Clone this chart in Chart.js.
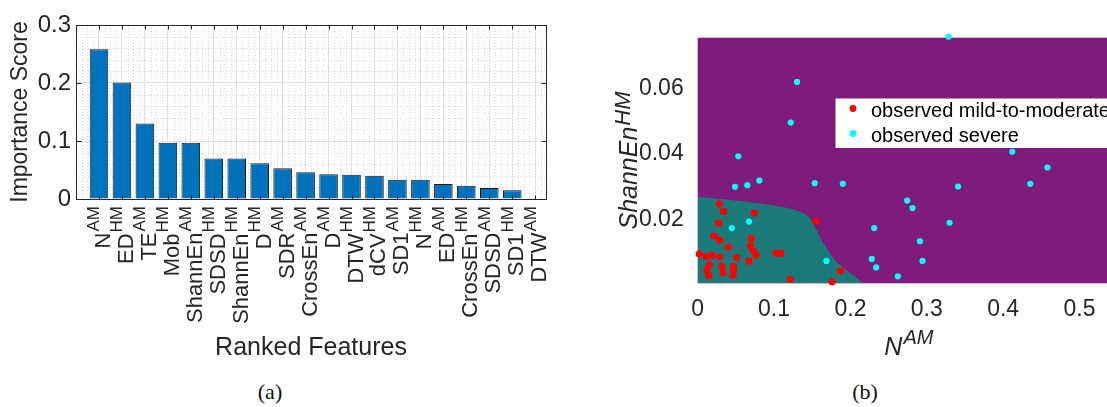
<!DOCTYPE html>
<html>
<head>
<meta charset="utf-8">
<script src="https://cdn.jsdelivr.net/npm/chart.js@4/dist/chart.umd.min.js"></script>
<style>
  html, body { margin: 0; padding: 0; background: #fff; width: 1107px; height: 407px; overflow: hidden; }
  #imp { position: absolute; left: 0; top: 0; }
  #region { position: absolute; left: 560px; top: 0; }
  .cap { position: absolute; top: 381px; transform: translateX(-50%); font: 22px/22px "Liberation Serif", "DejaVu Serif", serif; color: #111; }
</style>
</head>
<body>
<canvas id="imp" width="560" height="370"></canvas>
<canvas id="region" width="570" height="370"></canvas>
<div class="cap" style="left:270px">(a)</div>
<div class="cap" style="left:865px">(b)</div>
<script>
// (a) ranked feature importance
const features = ['N', 'ED', 'TE', 'Mob', 'ShannEn', 'SDSD', 'ShannEn', 'D', 'SDR', 'CrossEn',
                  'D', 'DTW', 'dCV', 'SD1', 'N', 'ED', 'CrossEn', 'SDSD', 'SD1', 'DTW'];
const featureSup = ['AM', 'HM', 'AM', 'HM', 'AM', 'HM', 'HM', 'HM', 'AM', 'AM',
                    'AM', 'HM', 'HM', 'AM', 'HM', 'AM', 'HM', 'AM', 'HM', 'AM'];
const importance = [0.258, 0.201, 0.130, 0.097, 0.097, 0.070, 0.070, 0.0615, 0.053, 0.046,
                    0.0425, 0.042, 0.040, 0.033, 0.033, 0.026, 0.023, 0.019, 0.015, 0.0005];
const yTicksA = [0, 0.1, 0.2, 0.3];

// (b) decision regions, N^AM vs ShannEn^HM
const mildX = [0.0283, 0.0336, 0.0742, 0.0275, 0.155, 0.0214, 0.0288, 0.0703, 0.0401, 0.0690,
               0.0729, 0.0764, 0.0021, 0.0109, 0.0192, 0.0292, 0.0511, 0.0672, 0.1026, 0.1088,
               0.0152, 0.0315, 0.0467, 0.0118, 0.0332, 0.0467, 0.0144, 0.0463, 0.1214, 0.1869, 0.176];
const mildY = [0.0247, 0.0224, 0.0219, 0.0188, 0.0194, 0.0149, 0.0136, 0.0141, 0.0115, 0.0119,
               0.0103, 0.0090, 0.0094, 0.0086, 0.0090, 0.0085, 0.0083, 0.0072, 0.0097, 0.0096,
               0.0061, 0.0056, 0.0056, 0.0046, 0.0037, 0.0047, 0.0028, 0.0029, 0.0017, 0.0042, 0.0009];
const severeX = [0.3285, 0.1301, 0.1219, 0.0532, 0.0489, 0.0650, 0.0807, 0.1533, 0.190, 0.341,
                 0.412, 0.4355, 0.458, 0.2743, 0.2813, 0.3298, 0.2311, 0.0446, 0.0672, 0.291,
                 0.228, 0.2337, 0.2944, 0.2621, 0.1686];
const severeY = [0.0757, 0.0619, 0.0495, 0.0392, 0.0299, 0.0304, 0.0318, 0.0310, 0.0308, 0.0300,
                 0.0406, 0.0308, 0.0358, 0.0257, 0.0234, 0.0189, 0.0173, 0.0173, 0.0193, 0.0133,
                 0.0079, 0.0053, 0.0073, 0.0026, 0.0073];
const boundaryX = [0, 0.0332, 0.0769, 0.121, 0.1385, 0.147, 0.1536, 0.160, 0.1688, 0.182, 0.1996, 0.217];
const boundaryY = [0.0269, 0.0261, 0.0250, 0.0233, 0.0218, 0.0203, 0.0177, 0.0147, 0.0111, 0.0070, 0.0035, 0.0005];
const xTicksB = [0, 0.1, 0.2, 0.3, 0.4, 0.5];
const yTicksB = [0.02, 0.04, 0.06];

const sans = '"Liberation Sans", Arial, Helvetica, sans-serif';
const ink = '#262626';
const fmt = v => String(+v.toFixed(3));
const pts = (xs, ys) => xs.map((x, i) => ({x, y: ys[i]}));

// --- panel (a) ---
const matlabAxes = {
  id: 'matlabAxes',
  beforeDatasetsDraw(chart) {
    const {ctx, chartArea: a, scales: {x, y}} = chart;
    ctx.save();
    ctx.strokeStyle = '#d6d6d6';
    ctx.lineWidth = 1;
    ctx.setLineDash([1, 2]);
    ctx.beginPath();
    for (let k = 1; k * 0.02 < y.max; k++) {
      if (k % 5 === 0) continue;
      const py = Math.round(y.getPixelForValue(k * 0.02)) + 0.5;
      ctx.moveTo(a.left, py); ctx.lineTo(a.right, py);
    }
    for (let k = 1; k * 0.25 < x.max; k++) {
      if (k % 4 === 0) continue;
      const px = Math.round(x.getPixelForValue(k * 0.25)) + 0.5;
      ctx.moveTo(px, a.top); ctx.lineTo(px, a.bottom);
    }
    ctx.stroke();
    ctx.restore();
  },
  afterDatasetsDraw(chart) {
    const {ctx, chartArea: a, scales: {x, y}} = chart;
    const L = Math.round(a.left) + 0.5, R = Math.round(a.right) + 0.5;
    const T = Math.round(a.top) + 0.5, B = Math.round(a.bottom) + 0.5;
    ctx.save();
    ctx.strokeStyle = ink;
    ctx.lineWidth = 1;
    ctx.strokeRect(L, T, R - L, B - T);
    ctx.beginPath();
    yTicksA.forEach(v => {
      const py = Math.round(y.getPixelForValue(v)) + 0.5;
      ctx.moveTo(L, py); ctx.lineTo(L + 5, py);
      ctx.moveTo(R, py); ctx.lineTo(R - 5, py);
    });
    features.forEach((_, i) => {
      const px = Math.round(x.getPixelForValue(i + 1)) + 0.5;
      ctx.moveTo(px, T); ctx.lineTo(px, T + 4);
      ctx.moveTo(px, B); ctx.lineTo(px, B - 4);
    });
    ctx.stroke();
    ctx.restore();
  },
  afterDraw(chart) {
    const {ctx, chartArea: a, scales: {x}} = chart;
    ctx.save();
    ctx.fillStyle = ink;
    ctx.textAlign = 'right';
    ctx.textBaseline = 'alphabetic';
    features.forEach((name, i) => {
      const cx = x.getPixelForValue(i + 1);
      ctx.save();
      ctx.translate(cx + 11, a.bottom + 7);
      ctx.rotate(-Math.PI / 2);
      ctx.font = `17px ${sans}`;
      ctx.fillText(featureSup[i], 0, -10.5);
      const w = ctx.measureText(featureSup[i]).width;
      ctx.font = `22px ${sans}`;
      ctx.fillText(name, -w - 1, 0);
      ctx.restore();
    });
    ctx.restore();
  }
};

new Chart(document.getElementById('imp'), {
  type: 'bar',
  data: {
    datasets: [{
      label: 'Importance Score',
      data: pts(features.map((_, i) => i + 1), importance),
      backgroundColor: '#0072bd',
      borderColor: '#1a1a1a',
      borderWidth: 1,
      categoryPercentage: 1,
      barPercentage: 0.81
    }]
  },
  options: {
    responsive: false,
    animation: false,
    layout: {padding: {top: 25, right: 14, bottom: 0, left: 0}},
    plugins: {legend: {display: false}, tooltip: {enabled: false}},
    scales: {
      x: {
        type: 'linear', min: 0, max: 20.47, offset: false,
        afterBuildTicks: s => { s.ticks = [0, ...features.map((_, i) => i + 1)].map(v => ({value: v})); },
        afterFit: s => { s.height = 171; },
        ticks: {display: false},
        grid: {offset: false, color: '#e0e0e0', drawTicks: false},
        border: {display: false},
        title: {display: true, text: 'Ranked Features', color: ink,
                font: {family: sans, size: 25}, padding: {top: 0, bottom: 7}}
      },
      y: {
        min: 0, max: 0.3,
        afterBuildTicks: s => { s.ticks = yTicksA.map(v => ({value: v})); },
        afterFit: s => { s.width = 76; },
        ticks: {color: ink, font: {family: sans, size: 24}, padding: 5, callback: v => fmt(v)},
        grid: {color: '#e0e0e0', drawTicks: false},
        border: {display: false},
        title: {display: true, text: 'Importance Score', color: ink,
                font: {family: sans, size: 23}, padding: {top: 7, bottom: 0}}
      }
    }
  },
  plugins: [matlabAxes]
});

// --- panel (b) ---
function supText(ctx, base, sup, baseSize, supSize, raise) {
  ctx.font = `italic ${baseSize}px ${sans}`;
  const wb = ctx.measureText(base).width;
  ctx.font = `italic ${supSize}px ${sans}`;
  const ws = ctx.measureText(sup).width;
  const start = -(wb + ws + 1) / 2;
  ctx.textAlign = 'left';
  ctx.textBaseline = 'alphabetic';
  ctx.font = `italic ${baseSize}px ${sans}`;
  ctx.fillText(base, start, 0);
  ctx.font = `italic ${supSize}px ${sans}`;
  ctx.fillText(sup, start + wb + 1, -raise);
}

const regionDecor = {
  id: 'regionDecor',
  beforeDatasetsDraw(chart) {
    const {ctx, chartArea: a} = chart;
    ctx.save();
    ctx.fillStyle = '#7e1b7b';
    ctx.fillRect(a.left, a.top, a.right - a.left, a.bottom - a.top);
    ctx.restore();
  },
  afterDatasetsDraw(chart) {
    const {ctx} = chart;
    const items = chart.data.datasets.filter(d => d.showInLegend);
    ctx.save();
    ctx.font = `20px ${sans}`;
    const tw = Math.max(...items.map(d => ctx.measureText(d.label).width));
    const bx = 275.5, by = 98.5, rowH = 25;
    ctx.fillStyle = '#fff';
    ctx.fillRect(bx, by, 36 + tw + 7, 49.5);
    items.forEach((d, i) => {
      const base = by + 18.5 + i * rowH;
      ctx.fillStyle = d.backgroundColor;
      ctx.beginPath();
      ctx.arc(bx + 17.5, base - 8.5, 3.4, 0, Math.PI * 2);
      ctx.fill();
      ctx.fillStyle = '#000';
      ctx.textAlign = 'left';
      ctx.textBaseline = 'alphabetic';
      ctx.fillText(d.label, bx + 35.5, base);
    });
    ctx.restore();
  },
  afterDraw(chart) {
    const {ctx, chartArea: a} = chart;
    ctx.save();
    ctx.fillStyle = ink;
    ctx.translate((a.left + a.right) / 2, 355);
    supText(ctx, 'N', 'AM', 25, 20, 11);
    ctx.restore();
    ctx.save();
    ctx.fillStyle = ink;
    ctx.translate(77, (a.top + a.bottom) / 2);
    ctx.rotate(-Math.PI / 2);
    supText(ctx, 'ShannEn', 'HM', 25, 22, 7);
    ctx.restore();
  }
};

new Chart(document.getElementById('region'), {
  type: 'scatter',
  data: {
    datasets: [
      {
        type: 'line',
        label: 'predicted mild-to-moderate',
        order: 10,
        data: pts(boundaryX, boundaryY),
        fill: 'start',
        backgroundColor: '#1b7b7a',
        borderColor: 'transparent',
        borderWidth: 0,
        pointRadius: 0,
        cubicInterpolationMode: 'monotone'
      },
      {
        label: 'observed mild-to-moderate',
        showInLegend: true,
        order: 1,
        data: pts(mildX, mildY),
        backgroundColor: '#ff0000',
        borderWidth: 0,
        pointRadius: 3.6,
        clip: false
      },
      {
        label: 'observed severe',
        showInLegend: true,
        order: 2,
        data: pts(severeX, severeY),
        backgroundColor: '#00ffff',
        borderWidth: 0,
        pointRadius: 3.1,
        clip: false
      }
    ]
  },
  options: {
    responsive: false,
    animation: false,
    layout: {padding: {top: 37.7, right: 10, bottom: 0, left: 0}},
    plugins: {legend: {display: false}, tooltip: {enabled: false}},
    scales: {
      x: {
        type: 'linear', min: 0, max: 0.553,
        afterBuildTicks: s => { s.ticks = xTicksB.map(v => ({value: v})); },
        afterFit: s => { s.height = 86.7; },
        ticks: {color: ink, font: {family: sans, size: 23}, padding: 5, callback: v => fmt(v)},
        grid: {display: false},
        border: {display: false}
      },
      y: {
        type: 'linear', min: 0.00046, max: 0.0754,
        afterBuildTicks: s => { s.ticks = yTicksB.map(v => ({value: v})); },
        afterFit: s => { s.width = 137.7; },
        ticks: {color: ink, font: {family: sans, size: 23}, padding: 6, callback: v => fmt(v)},
        grid: {display: false},
        border: {display: false}
      }
    }
  },
  plugins: [regionDecor]
});
</script>
</body>
</html>
